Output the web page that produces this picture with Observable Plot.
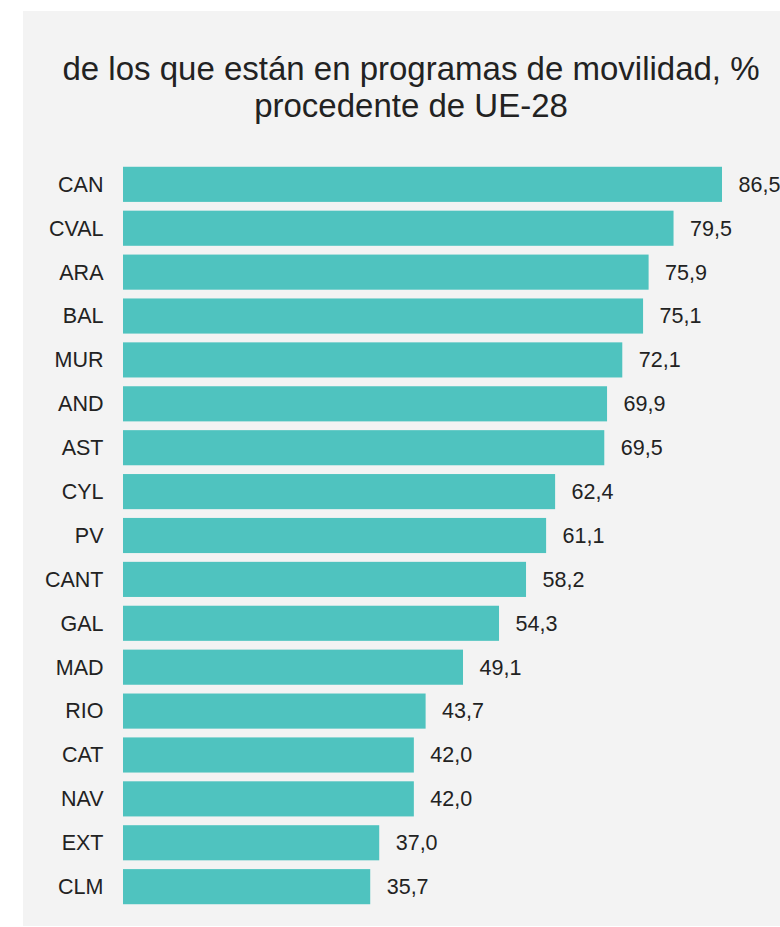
<!DOCTYPE html>
<html>
<head>
<meta charset="utf-8">
<script src="https://cdn.jsdelivr.net/npm/d3@7"></script>
<script src="https://cdn.jsdelivr.net/npm/@observablehq/plot@0.6"></script>
<style>
  html, body { margin: 0; padding: 0; background: #ffffff; width: 780px; height: 927px; overflow: hidden; }
  #panel { position: absolute; left: 23px; top: 11px; width: 800px; height: 915px; background: #f3f3f3; }
  #title { position: absolute; left: 23px; width: 776px; top: 50px; text-align: center;
           font-family: "Liberation Sans", Arial, sans-serif; font-size: 33px; line-height: 37px; color: #222; }
  #chart { position: absolute; left: 0; top: 0; }
</style>
</head>
<body>
<div id="panel"></div>
<div id="title">de los que están en programas de movilidad, %<br>procedente de UE-28</div>
<div id="chart"></div>
<script>
const regions = ["CAN","CVAL","ARA","BAL","MUR","AND","AST","CYL","PV","CANT","GAL","MAD","RIO","CAT","NAV","EXT","CLM"];
const values = [86.5,79.5,75.9,75.1,72.1,69.9,69.5,62.4,61.1,58.2,54.3,49.1,43.7,42.0,42.0,37.0,35.7];

const data = regions.map((r, i) => ({region: r, value: values[i]}));
const fmt = v => v.toFixed(1).replace(".", ",");

const plot = Plot.plot({
  width: 780,
  height: 927,
  marginLeft: 123,
  marginRight: 58,
  marginTop: 158,
  marginBottom: 14,
  style: {background: "transparent", fontFamily: "'Liberation Sans', Arial, sans-serif", fontSize: "21.5px", color: "#222", overflow: "visible"},
  x: {domain: [0, 86.5], axis: null},
  y: {domain: regions, padding: 0.2, round: false, label: null, tickSize: 0, tickPadding: 20},
  marks: [
    Plot.barX(data, {x: "value", y: "region", fill: "#4fc3bf"}),
    Plot.text(data, {x: "value", y: "region", text: d => fmt(d.value), dx: 16, textAnchor: "start", fontSize: 21.5, fill: "#222"})
  ]
});
document.getElementById("chart").appendChild(plot);
</script>
</body>
</html>
